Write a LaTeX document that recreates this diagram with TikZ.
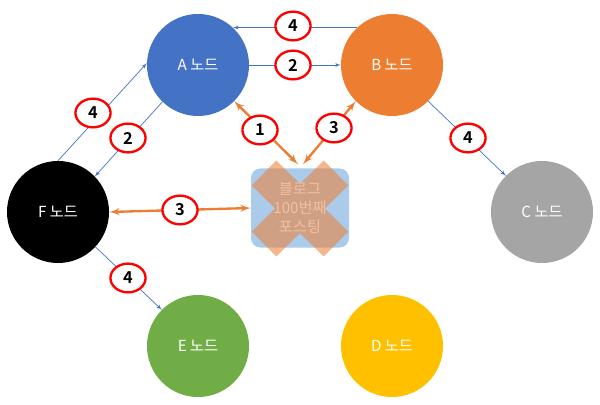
\documentclass[tikz,border=0pt]{standalone}
\usepackage{fontspec}
\setmainfont{Noto Sans CJK KR}[BoldFont={Noto Sans CJK KR Bold}]
\usepackage{xcolor}
\usepackage{tikz}
\usetikzlibrary{shapes.geometric, arrows, positioning, calc}
\definecolor{nodeA}{HTML}{4472C4}
\definecolor{nodeB}{HTML}{ED7D31}
\definecolor{nodeC}{HTML}{A5A5A5}
\definecolor{nodeD}{HTML}{FFC000}
\definecolor{nodeE}{HTML}{70AD47}
\definecolor{boxblue}{HTML}{ABCBEB}
\definecolor{peach}{HTML}{F2C09E}

\begin{document}
\begin{tikzpicture}[x=0.03cm, y=-0.03cm, font=\fontsize{13}{15}\selectfont]
\tikzstyle{peer} = [circle, minimum size=3.06cm, inner sep=0pt, text=white]
\tikzstyle{blue line} = [draw, -latex', line width=0.6pt, nodeA]
\tikzstyle{orange line} = [draw, latex'-latex', line width=2pt, nodeB]
\tikzstyle{badge} = [ellipse, draw=red, line width=2pt, fill=white, minimum width=30pt, minimum height=24.5pt, inner sep=0pt, font=\bfseries\fontsize{14}{15}\selectfont]

\useasboundingbox (0,0) rectangle (600,405);

\node (A) [peer, fill=nodeA] at (198,65) {A 노드};
\node (B) [peer, fill=nodeB] at (392,65) {B 노드};
\node (C) [peer, fill=nodeC] at (542,212) {C 노드};
\node (D) [peer, fill=nodeD] at (392,346) {D 노드};
\node (E) [peer, fill=nodeE] at (198,346) {E 노드};
\node (F) [peer, fill=black] at (58,212) {F 노드};

% 100th post box, crossed out
\node (blog) [rectangle, rounded corners=8pt, fill=boxblue, minimum width=2.94cm, minimum height=2.37cm] at (300,208) {};
\draw [nodeB, opacity=0.55, line width=1.05cm] (264,173) -- (336,244) (336,173) -- (264,244);
\node (blogtext) [align=center, text=peach, font=\fontsize{13}{16}\selectfont] at (blog.center) {블로그\\100번째\\포스팅};

\draw [blue line] (B.133) -- (A.47);
\draw [blue line] (A.east) -- (B.west);
\draw [blue line] (F.north) -- (A.178);
\draw [blue line] (A.226) -- (F.44);
\draw [blue line] (B.-45) -- (C.135);
\draw [blue line] (F.-43) -- (E.135);
\draw [orange line] (A.-45) -- ($(blog.north)+(-2,-4)$);
\draw [orange line] (B.225) -- ($(blog.north)+(3,-4)$);
\draw [orange line] (F.east) -- (blog.west);

\node (n4ab) [badge] at (293,26) {4};
\node (n2ab) [badge] at (293,65) {2};
\node (n4fa) [badge] at (93,113) {4};
\node (n2af) [badge] at (128,138) {2};
\node (n1) [badge] at (260,130) {1};
\node (n3b) [badge] at (334,128) {3};
\node (n4bc) [badge] at (468,138) {4};
\node (n3f) [badge] at (180,210) {3};
\node (n4fe) [badge] at (128,278) {4};
\end{tikzpicture}
\end{document}
